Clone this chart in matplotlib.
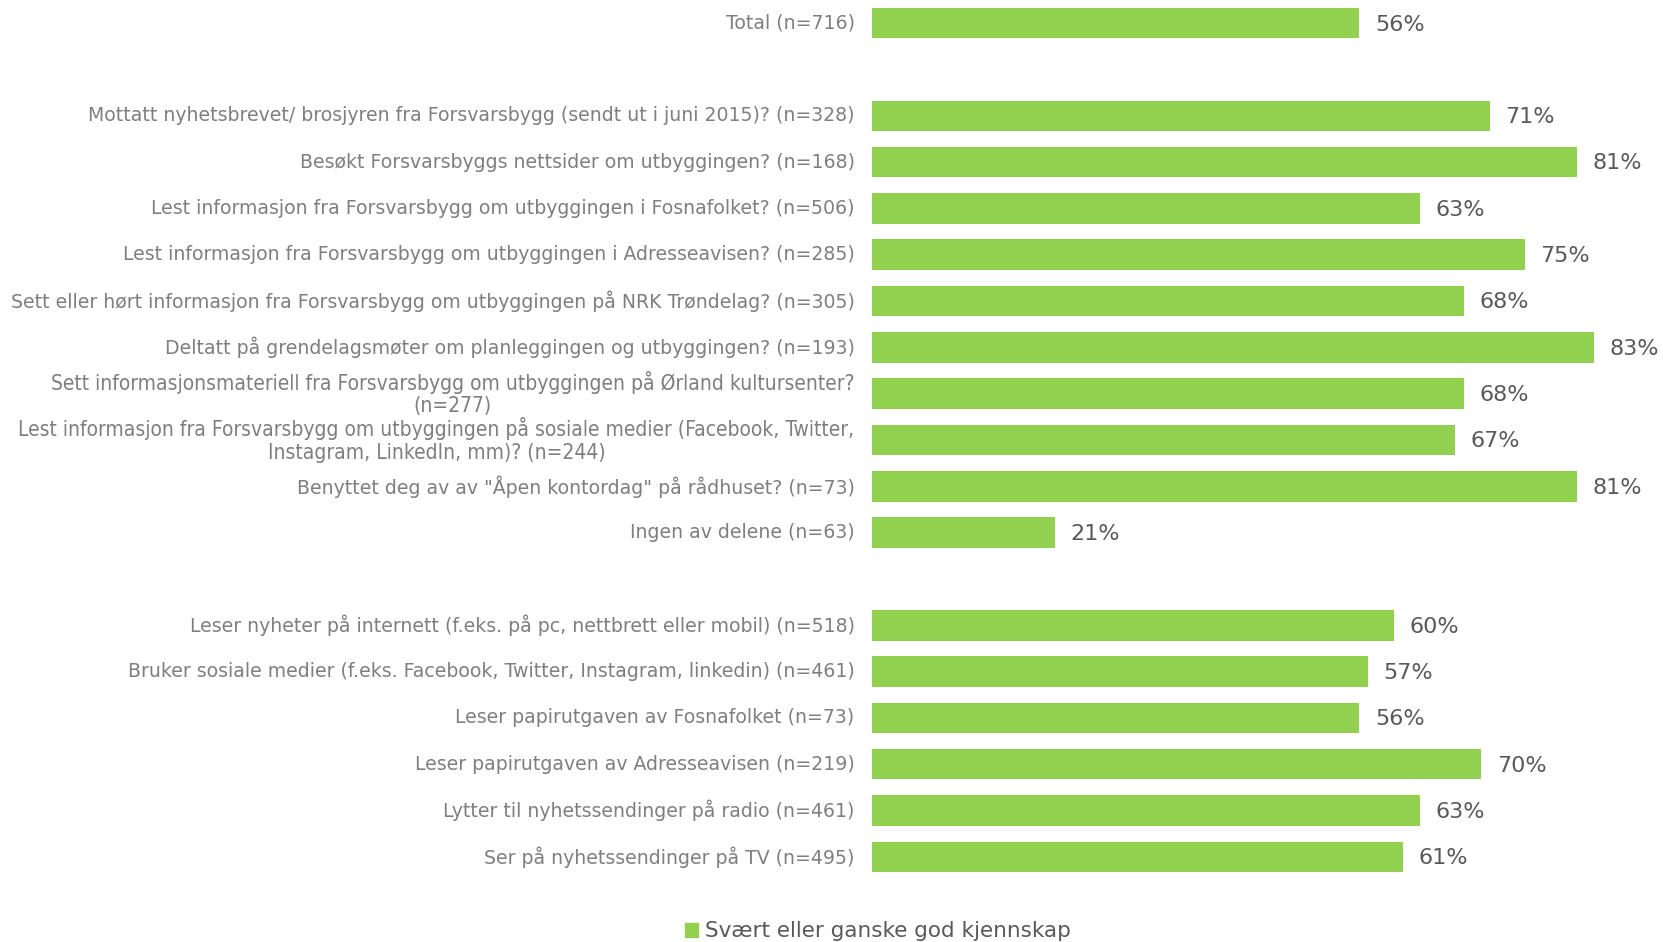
import matplotlib
matplotlib.use("Agg")
import matplotlib.pyplot as plt
from matplotlib.patches import Patch

labels = [
    "Total (n=716)",
    "",
    "Mottatt nyhetsbrevet/ brosjyren fra Forsvarsbygg (sendt ut i juni 2015)? (n=328)",
    "Besøkt Forsvarsbyggs nettsider om utbyggingen? (n=168)",
    "Lest informasjon fra Forsvarsbygg om utbyggingen i Fosnafolket? (n=506)",
    "Lest informasjon fra Forsvarsbygg om utbyggingen i Adresseavisen? (n=285)",
    "Sett eller hørt informasjon fra Forsvarsbygg om utbyggingen på NRK Trøndelag? (n=305)",
    "Deltatt på grendelagsmøter om planleggingen og utbyggingen? (n=193)",
    "Sett informasjonsmateriell fra Forsvarsbygg om utbyggingen på Ørland kultursenter?\n(n=277)",
    "Lest informasjon fra Forsvarsbygg om utbyggingen på sosiale medier (Facebook, Twitter,\nInstagram, LinkedIn, mm)? (n=244)",
    "Benyttet deg av av \"Åpen kontordag\" på rådhuset? (n=73)",
    "Ingen av delene (n=63)",
    "",
    "Leser nyheter på internett (f.eks. på pc, nettbrett eller mobil) (n=518)",
    "Bruker sosiale medier (f.eks. Facebook, Twitter, Instagram, linkedin) (n=461)",
    "Leser papirutgaven av Fosnafolket (n=73)",
    "Leser papirutgaven av Adresseavisen (n=219)",
    "Lytter til nyhetssendinger på radio (n=461)",
    "Ser på nyhetssendinger på TV (n=495)",
]
values = [56, None, 71, 81, 63, 75, 68, 83, 68, 67, 81, 21, None, 60, 57, 56, 70, 63, 61]

GREEN = "#92D050"

fig = plt.figure(figsize=(16.63, 9.42), dpi=100)
ax = fig.add_axes([872 / 1663, 62 / 942, 783 / 1663, 880 / 942])

for i, (lab, v) in enumerate(zip(labels, values)):
    if v is None:
        continue
    ax.barh(i, v, height=0.66, color=GREEN)
    ax.text(v + 1.8, i + 0.03, f"{v}%", va="center", ha="left", fontsize=16, color="#595959")
    if "\n" in lab:
        # long labels are wrapped and squeezed, as in the original
        ax.text(-2, i, lab, va="center", ha="right", fontsize=15, color="#7f7f7f",
                fontstretch="condensed", multialignment="center", linespacing=1.15)
    else:
        ax.text(-2, i, lab, va="center", ha="right", fontsize=13.6, color="#7f7f7f")

ax.set_xlim(0, 90)
ax.set_ylim(18.5, -0.5)
ax.axis("off")

fig.legend(handles=[Patch(color=GREEN)], labels=["Svært eller ganske god kjennskap"],
           loc="lower center", bbox_to_anchor=(0.528, -0.02), frameon=False,
           fontsize=15.5, handlelength=0.6, handleheight=0.6, handletextpad=0.3,
           labelcolor="#595959")

fig.savefig("out.png", dpi=100)
